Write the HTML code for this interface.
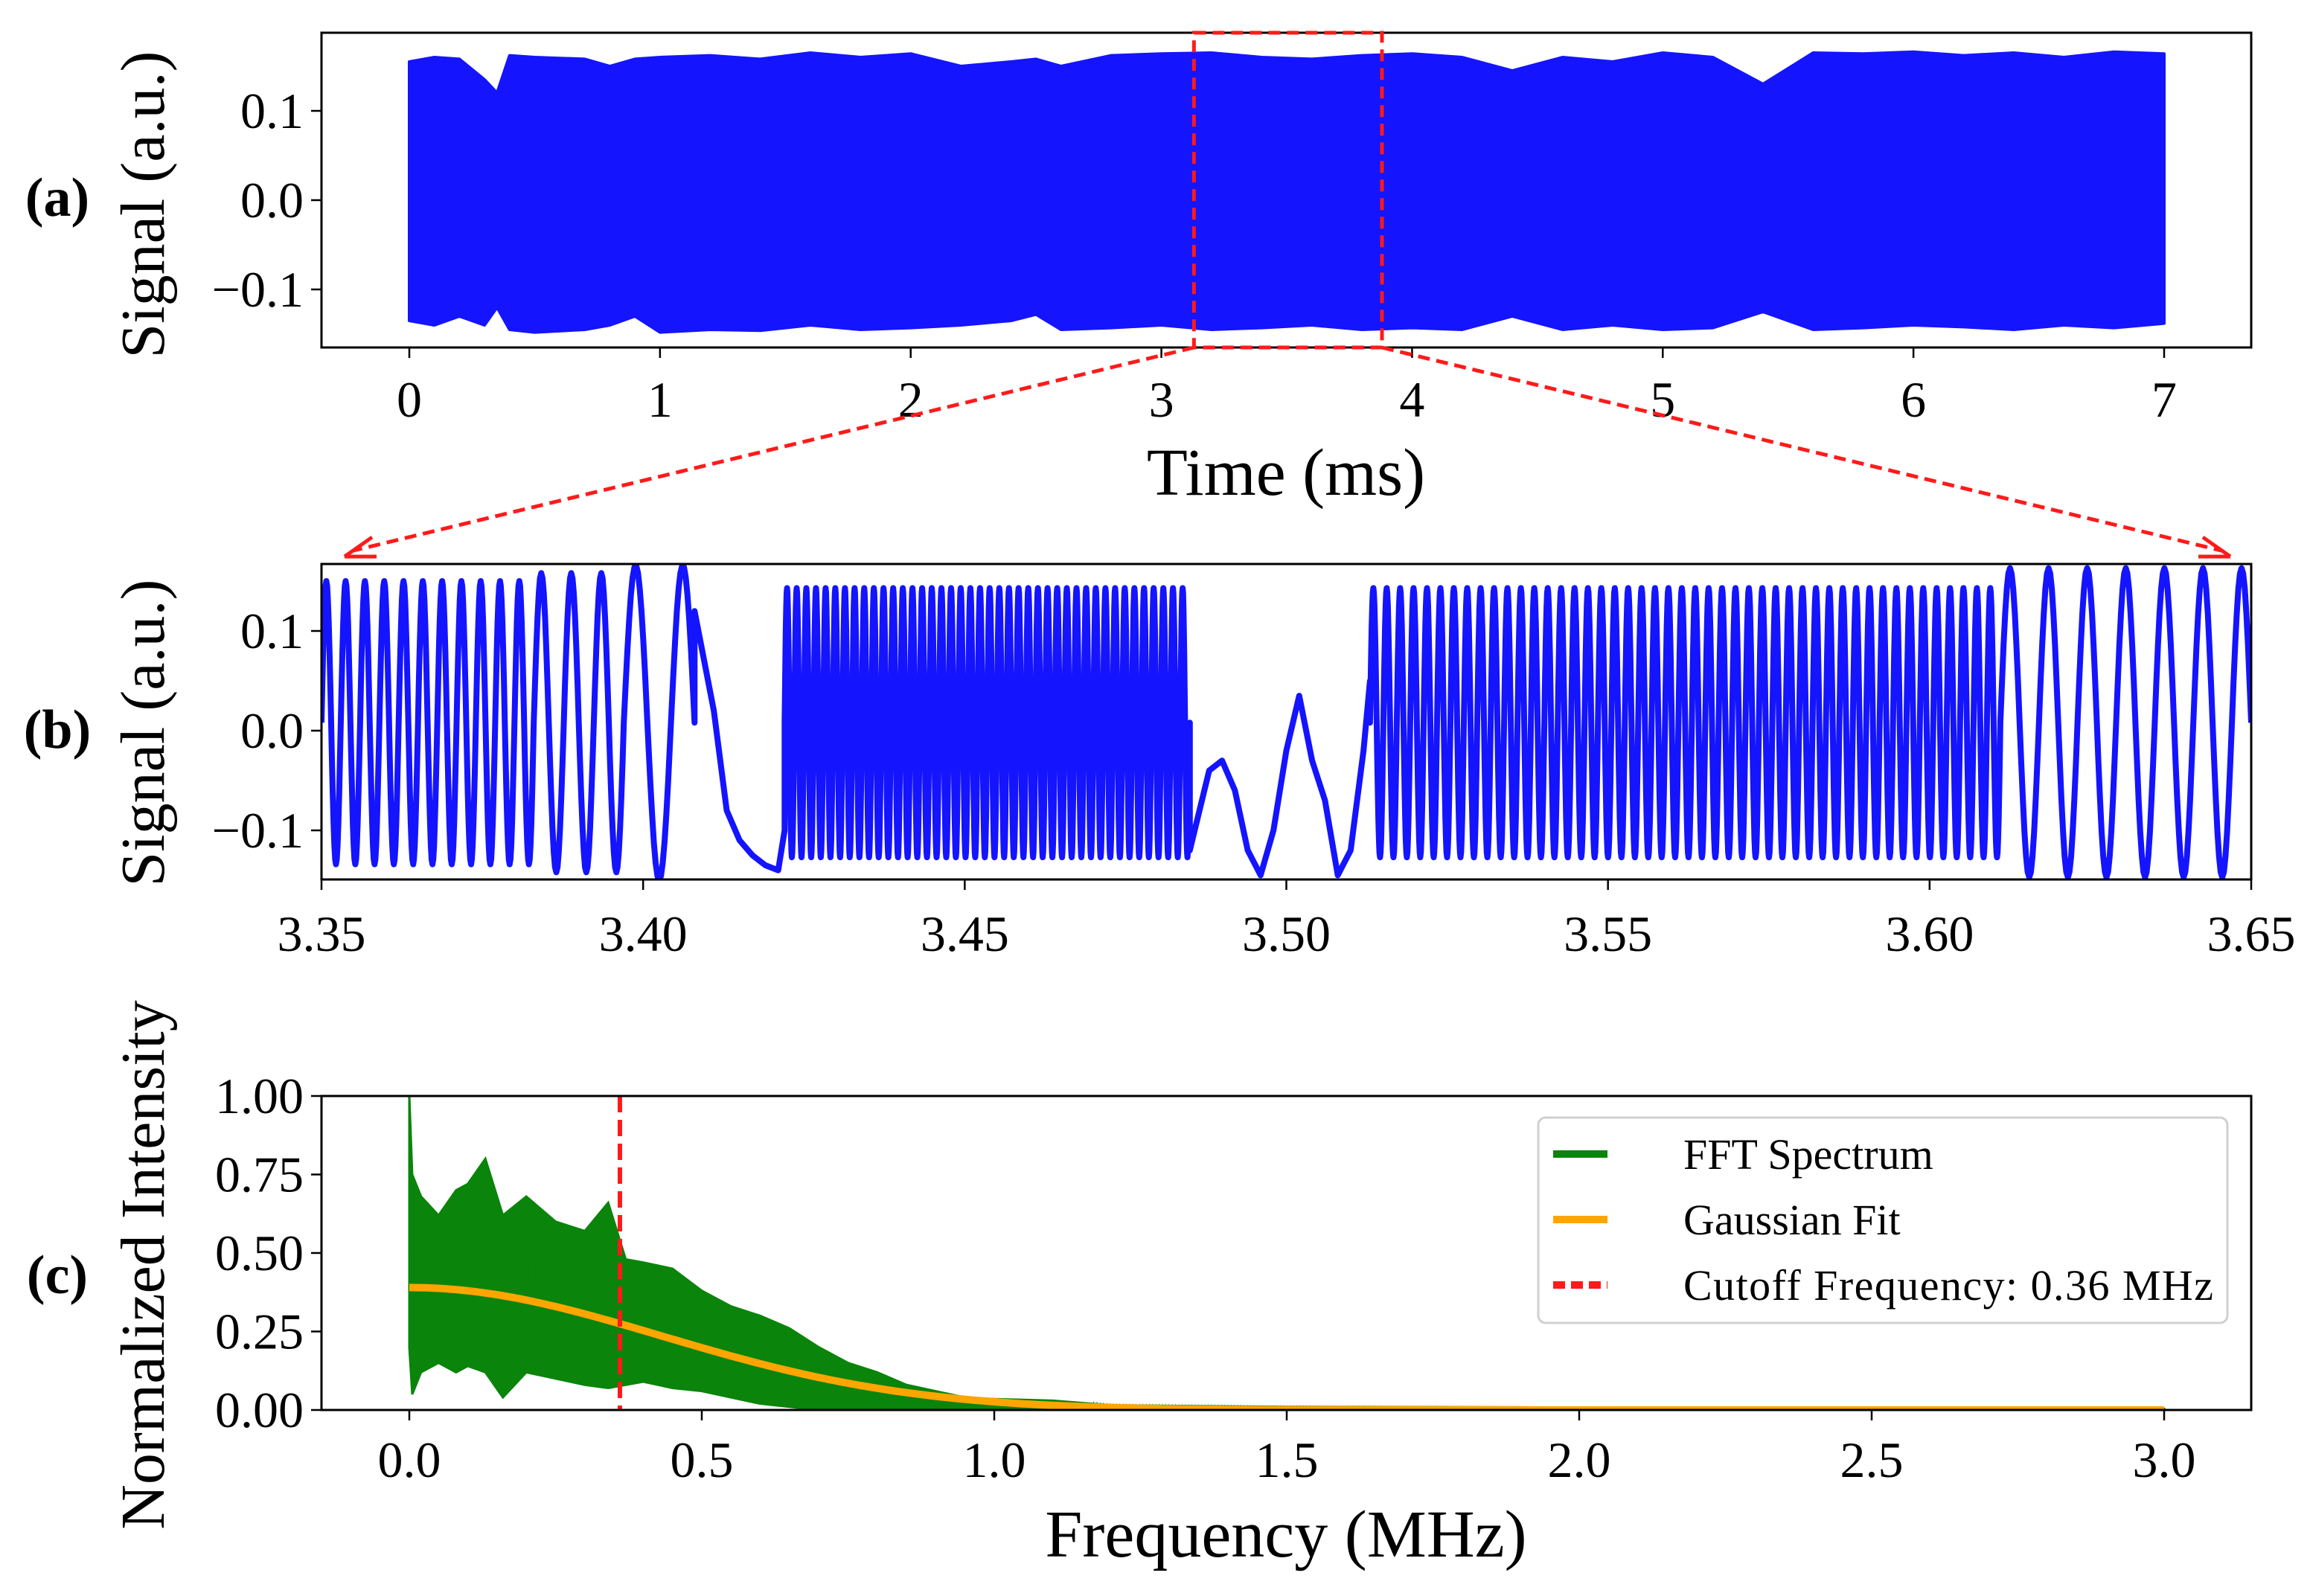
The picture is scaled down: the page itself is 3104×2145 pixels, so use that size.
<!DOCTYPE html>
<html><head><meta charset="utf-8"><style>
html,body{margin:0;padding:0;background:#fff;}
svg{display:block;font-family:"Liberation Serif",serif;}
</style></head><body>
<svg id="fig" width="3104" height="2145" viewBox="0 0 3104 2145" xmlns="http://www.w3.org/2000/svg">
<defs>
<clipPath id="clipA"><rect x="432" y="44" width="2593" height="423"/></clipPath>
<clipPath id="clipB"><rect x="432" y="758" width="2593" height="424"/></clipPath>
<clipPath id="clipC"><rect x="432" y="1473" width="2593" height="422"/></clipPath>
</defs>
<g id="gA"></g>
<g id="gB"></g>
<g id="gC"></g>
</svg>
<script>
// ---- Panel (a) data: envelope of dense signal ----
const aTimes = [0,0.1,0.2,0.3,0.35,0.4,0.5,0.7,0.8,0.9,1.0,1.2,1.4,1.6,1.8,2.0,2.2,2.4,2.5,2.6,2.8,3.0,3.2,3.4,3.6,3.8,4.0,4.2,4.4,4.6,4.8,5.0,5.2,5.4,5.6,5.8,6.0,6.2,6.4,6.6,6.8,7.0];
const aUpper = [0.155,0.160,0.158,0.135,0.120,0.162,0.160,0.158,0.150,0.158,0.160,0.162,0.158,0.165,0.160,0.164,0.150,0.155,0.158,0.150,0.162,0.164,0.165,0.160,0.158,0.162,0.164,0.160,0.145,0.160,0.155,0.165,0.160,0.130,0.165,0.164,0.166,0.162,0.165,0.160,0.166,0.164];
const aLower = [-0.135,-0.140,-0.130,-0.140,-0.120,-0.145,-0.148,-0.145,-0.140,-0.130,-0.148,-0.145,-0.146,-0.140,-0.145,-0.143,-0.140,-0.135,-0.128,-0.145,-0.143,-0.140,-0.145,-0.143,-0.140,-0.145,-0.143,-0.145,-0.130,-0.145,-0.140,-0.145,-0.143,-0.125,-0.145,-0.143,-0.140,-0.142,-0.145,-0.140,-0.143,-0.138];
const aXTicks = [0,1,2,3,4,5,6,7];
const aYTicks = [0.1,0.0,-0.1];
const zoomStart = 3.13, zoomEnd = 3.88;

// ---- Panel (b) data: oscillation segments [t0, t1, cycles, amplitude] ----
const bSegStart = [3.350,3.383,3.397,3.422,3.513,3.611];
const bSegEnd   = [3.383,3.397,3.408,3.485,3.611,3.650];
const bSegCycles= [11,3,1.5,42,47,6.5];
const bSegAmp   = [0.142,0.150,0.158,0.135,0.135,0.155];
const bSlow1T = [3.408,3.411,3.413,3.415,3.417,3.419,3.421,3.422];
const bSlow1V = [0.12,0.02,-0.08,-0.11,-0.125,-0.135,-0.14,-0.10];
const bSlow2T = [3.485,3.488,3.490,3.492,3.494,3.496,3.498,3.500,3.502,3.504,3.506,3.508,3.510,3.512,3.513];
const bSlow2V = [-0.12,-0.04,-0.03,-0.06,-0.12,-0.145,-0.10,-0.02,0.035,-0.03,-0.07,-0.145,-0.12,-0.02,0.05];
const bXTicks = [3.35,3.40,3.45,3.50,3.55,3.60,3.65];
const bYTicks = [0.1,0.0,-0.1];

// ---- Panel (c) data ----
const cFreq  = [0,0.005,0.02,0.05,0.08,0.10,0.13,0.16,0.20,0.25,0.30,0.34,0.37,0.40,0.45,0.50,0.55,0.60,0.65,0.70,0.75,0.80,0.85,0.90,0.95,1.00,1.10,1.20,1.50,2.00,2.50,3.00];
const cUpper = [1.00,0.75,0.68,0.62,0.70,0.72,0.80,0.62,0.68,0.60,0.57,0.66,0.48,0.47,0.45,0.38,0.33,0.30,0.26,0.20,0.15,0.12,0.08,0.06,0.04,0.035,0.03,0.015,0.01,0.008,0.006,0.004];
const cLower = [0.20,0.05,0.12,0.15,0.12,0.14,0.12,0.04,0.12,0.10,0.08,0.07,0.08,0.09,0.07,0.06,0.04,0.02,0.01,0.0,0.0,0.0,0.0,0.0,0.0,0.0,0.0,0.0,0.0,0.0,0.0,0.0];
const gaussAmp = 0.39, gaussSigma = 0.43;
const cutoff = 0.36;
const cXTicks = [0.0,0.5,1.0,1.5,2.0,2.5,3.0];
const cYTicks = [0.00,0.25,0.50,0.75,1.00];

const NS="http://www.w3.org/2000/svg";
function mk(parent,tag,attrs,text){const e=document.createElementNS(NS,tag);for(const k in attrs)e.setAttribute(k,attrs[k]);if(text!==undefined)e.textContent=text;parent.appendChild(e);return e;}
function interp(xs,ys,x){if(x<=xs[0])return ys[0];for(let i=1;i<xs.length;i++){if(x<=xs[i]){const f=(x-xs[i-1])/(xs[i]-xs[i-1]);return ys[i-1]+f*(ys[i]-ys[i-1]);}}return ys[ys.length-1];}

const BLUE="#1414ff";
const TICKFS=68;
function axesFrame(g,L,T,R,B){
  const f=mk(g,'rect',{x:L,y:T,width:R-L,height:B-T,fill:'none',stroke:'#000','stroke-width':3});
  
  
}
function xTick(g,x,B,label,ly){
  const t=mk(g,'line',{x1:x,y1:B,x2:x,y2:B+14,stroke:'#000','stroke-width':2.5});
  
  
  const s=mk(g,'text',{x:x,y:ly,'font-size':TICKFS,'text-anchor':'middle'},label);
  
  
}
function yTick(g,y,L,label){
  const t=mk(g,'line',{x1:L-14,y1:y,x2:L,y2:y,stroke:'#000','stroke-width':2.5});
  
  
  const s=mk(g,'text',{x:L-24,y:y+23,'font-size':TICKFS,'text-anchor':'end'},label);
  
  
}
function fmtMinus(v,d){const s=Math.abs(v).toFixed(d);return (v<0?'\u2212':'')+s;}

// ===== Panel A =====
(function(){
  const g=document.getElementById('gA');
  const L=432,R=3025,T=44,B=467;
  const X=t=>550+t*(2908-550)/7, Y=v=>269-v*1200;
  const cg=mk(g,'g',{'clip-path':'url(#clipA)'});
  let pts=[];
  for(let i=0;i<aTimes.length;i++)pts.push(X(aTimes[i])+','+Y(aUpper[i]));
  for(let i=aTimes.length-1;i>=0;i--)pts.push(X(aTimes[i])+','+Y(aLower[i]));
  const p=mk(cg,'polygon',{points:pts.join(' '),fill:BLUE,stroke:BLUE,'stroke-width':4,'stroke-linejoin':'round'});
  
  
  axesFrame(g,L,T,R,B);
  aXTicks.forEach(t=>xTick(g,X(t),B,String(t),560));
  aYTicks.forEach(v=>yTick(g,Y(v),L,fmtMinus(v,1)));
  const zr=mk(g,'rect',{x:X(zoomStart),y:T,width:X(zoomEnd)-X(zoomStart),height:B-T,fill:'none',stroke:'#ff1a1a','stroke-width':5,'stroke-dasharray':'16,9'});
  
  
  const xl=mk(g,'text',{x:1728,y:665,'font-size':90,'text-anchor':'middle'},'Time (ms)');
  
  
  const yl=mk(g,'text',{x:0,y:0,'font-size':84,'text-anchor':'middle',transform:'translate(220,275) rotate(-90)'},'Signal (a.u.)');
  
  
  const pl=mk(g,'text',{x:77,y:290,'font-size':74,'font-weight':'bold','text-anchor':'middle'},'(a)');
  
  
  const c1=mk(g,'line',{x1:X(zoomStart),y1:B,x2:475,y2:740,stroke:'#ff1a1a','stroke-width':5,'stroke-dasharray':'16,9'});
  
  
  const c2=mk(g,'line',{x1:X(zoomEnd),y1:B,x2:2985,y2:740,stroke:'#ff1a1a','stroke-width':5,'stroke-dasharray':'16,9'});
  
  
  const a1=mk(g,'path',{d:'M463,748 L500,722 M463,748 L506,748',stroke:'#ff1a1a','stroke-width':5,fill:'none'});
  
  
  const a2=mk(g,'path',{d:'M2997,748 L2960,722 M2997,748 L2954,748',stroke:'#ff1a1a','stroke-width':5,fill:'none'});
  
  
})();

// ===== Panel B =====
(function(){
  const g=document.getElementById('gB');
  const L=432,R=3025,T=758,B=1182;
  const X=t=>432+(t-3.35)/0.3*2593, Y=v=>982-v*1340;
  const cg=mk(g,'g',{'clip-path':'url(#clipB)'});
  let pts=[];
  const offs=0.008;
  function seg(i){
    const n=Math.max(40,Math.round(bSegCycles[i]*24));
    for(let k=0;k<=n;k++){
      const t=bSegStart[i]+(bSegEnd[i]-bSegStart[i])*k/n;
      const ph=2*Math.PI*bSegCycles[i]*k/n;
      pts.push(X(t).toFixed(1)+','+Y(offs+bSegAmp[i]*Math.sin(ph)).toFixed(1));
    }
  }
  function slow(ts,vs){for(let i=0;i<ts.length;i++)pts.push(X(ts[i]).toFixed(1)+','+Y(vs[i]).toFixed(1));}
  seg(0);seg(1);seg(2);slow(bSlow1T,bSlow1V);seg(3);slow(bSlow2T,bSlow2V);seg(4);seg(5);
  const pl=mk(cg,'polyline',{points:pts.join(' '),fill:'none',stroke:BLUE,'stroke-width':8,'stroke-linejoin':'round'});
  
  
  axesFrame(g,L,T,R,B);
  bXTicks.forEach(t=>xTick(g,X(t),B,t.toFixed(2),1278));
  bYTicks.forEach(v=>yTick(g,Y(v),L,fmtMinus(v,1)));
  const yl=mk(g,'text',{x:0,y:0,'font-size':84,'text-anchor':'middle',transform:'translate(220,985) rotate(-90)'},'Signal (a.u.)');
  
  
  const p=mk(g,'text',{x:77,y:1005,'font-size':74,'font-weight':'bold','text-anchor':'middle'},'(b)');
  
  
})();

// ===== Panel C =====
(function(){
  const g=document.getElementById('gC');
  const L=432,R=3025,T=1473,B=1895;
  const X=f=>550+f*786, Y=v=>1895-v*422;
  const cg=mk(g,'g',{'clip-path':'url(#clipC)'});
  let pts=[];
  for(let i=0;i<cFreq.length;i++)pts.push(X(cFreq[i])+','+Y(cUpper[i]));
  for(let i=cFreq.length-1;i>=0;i--)pts.push(X(cFreq[i])+','+Y(cLower[i]));
  const env=mk(cg,'polygon',{points:pts.join(' '),fill:'#0a840a',stroke:'#0a840a','stroke-width':3});
  
  
  let jp=[];let up=true;
  for(let x=X(0);x<=X(3);x+=2.2){
    const f=(x-550)/786;
    jp.push(x.toFixed(1)+','+Y(up?interp(cFreq,cUpper,f):interp(cFreq,cLower,f)).toFixed(1));up=!up;
  }
  const jl=mk(cg,'polyline',{points:jp.join(' '),fill:'none',stroke:'#0a840a','stroke-width':2});
  
  
  let gp=[];
  for(let k=0;k<=300;k++){const f=3*k/300;gp.push(X(f).toFixed(1)+','+Y(gaussAmp*Math.exp(-f*f/(2*gaussSigma*gaussSigma))).toFixed(1));}
  const gl=mk(cg,'polyline',{points:gp.join(' '),fill:'none',stroke:'#ffa500','stroke-width':10});
  
  
  const cl=mk(cg,'line',{x1:X(cutoff),y1:T,x2:X(cutoff),y2:B,stroke:'#ff1a1a','stroke-width':6,'stroke-dasharray':'22,10'});
  
  
  axesFrame(g,L,T,R,B);
  cXTicks.forEach(t=>xTick(g,X(t),B,t.toFixed(1),1985));
  cYTicks.forEach(v=>yTick(g,Y(v),L,v.toFixed(2)));
  const xl=mk(g,'text',{x:1728,y:2092,'font-size':90,'text-anchor':'middle'},'Frequency (MHz)');
  
  
  const yl=mk(g,'text',{x:0,y:0,'font-size':84,'text-anchor':'middle',transform:'translate(220,1700) rotate(-90)'},'Normalized Intensity');
  
  
  const p=mk(g,'text',{x:77,y:1738,'font-size':74,'font-weight':'bold','text-anchor':'middle'},'(c)');
  
  
  const lg=mk(g,'g',{});
  
  
  mk(lg,'rect',{x:2067,y:1502,width:926,height:276,rx:10,fill:'#fff',stroke:'#d0d0d0','stroke-width':3});
  const items=[['FFT Spectrum','#0a840a',''],['Gaussian Fit','#ffa500',''],['Cutoff Frequency: 0.36 MHz','#ff1a1a','16,8']];
  items.forEach((it,i)=>{
    const y=1551+i*88;
    const e=mk(lg,'g',{});
    
    
    const a={x1:2087,y1:y,x2:2160,y2:y,stroke:it[1],'stroke-width':10};
    if(it[2])a['stroke-dasharray']=it[2];
    mk(e,'line',a);
    mk(e,'text',{x:2262,y:y+20,'font-size':58,textLength:i===2?712:undefined},it[0]);
  });
})();
</script>
</body></html>
